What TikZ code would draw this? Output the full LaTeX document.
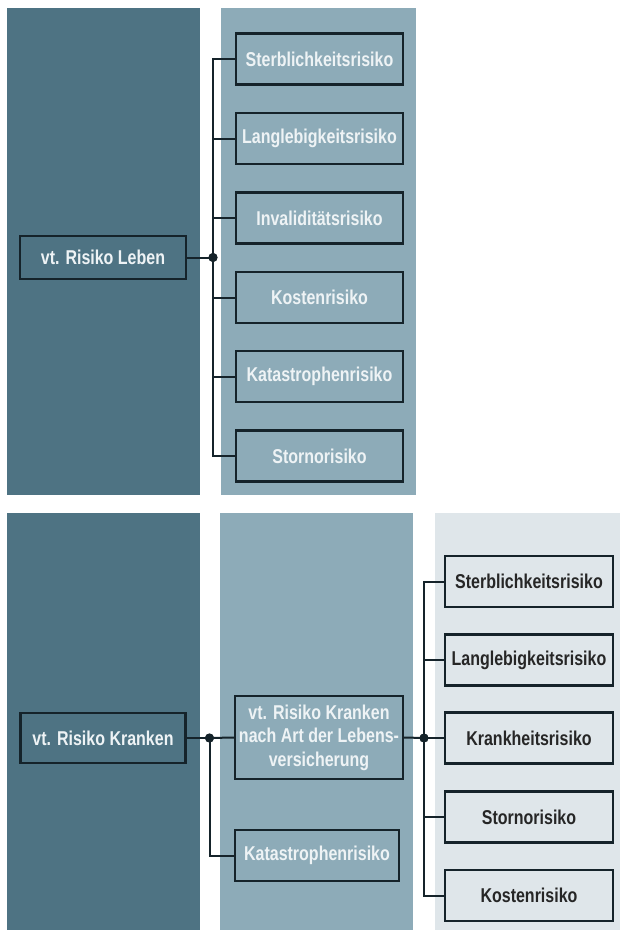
\documentclass[tikz,border=0pt]{standalone}
\usepackage{fontspec}
\setmainfont{Liberation Sans}[FakeStretch=0.8]
\definecolor{darkp}{HTML}{4E7383}
\definecolor{midp}{HTML}{8DABB8}
\definecolor{lightp}{HTML}{DFE6EA}
\definecolor{lineC}{HTML}{15232A}
\definecolor{txtW}{HTML}{EEF3F5}
\begin{document}
\begin{tikzpicture}[x=1pt,y=-1pt,
  box/.style={draw=lineC, line width=2.2pt, inner sep=0pt, align=center,
    font=\fontsize{20}{23.5}\selectfont\bfseries, minimum height=51pt},
  wbox/.style={box, text=txtW},
  kbox/.style={box, text=black!85},
  conn/.style={draw=lineC, line width=2pt},
  jdot/.style={circle, fill=lineC, inner sep=0pt, minimum size=9pt}]
\useasboundingbox (0,0) rectangle (620,930);
\fill[white] (0,0) rectangle (620,930);
% panels
\fill[darkp] (7,8) rectangle (200,495);
\fill[midp] (221,8) rectangle (416,495);
\fill[darkp] (7,513) rectangle (200,930);
\fill[midp] (220,513) rectangle (413,930);
\fill[lightp] (435,513) rectangle (620,930);
% top section
\node[wbox, minimum width=166pt, minimum height=43pt] (leben) at (103,257.5) {vt. Risiko Leben};
\node[jdot] (j1) at (213,257.5) {};
\node[wbox, minimum width=167pt] (t1) at (319.5,59) {Sterblichkeitsrisiko};
\node[wbox, minimum width=167pt] (t2) at (319.5,138.5) {Langlebigkeitsrisiko};
\node[wbox, minimum width=167pt] (t3) at (319.5,218) {Invaliditätsrisiko};
\node[wbox, minimum width=167pt] (t4) at (319.5,297.5) {Kostenrisiko};
\node[wbox, minimum width=167pt] (t5) at (319.5,376.5) {Katastrophenrisiko};
\node[wbox, minimum width=167pt] (t6) at (319.5,456) {Stornorisiko};
\draw[conn] (leben.east) -- (j1.center);
\foreach \n in {t1,t2,t3,t4,t5,t6} \draw[conn] (j1.center) |- (\n.west);
% bottom section
\node[wbox, minimum width=165pt, minimum height=50pt] (kranken) at (103,738) {vt. Risiko Kranken};
\node[jdot] (j2) at (209.5,738) {};
\node[wbox, minimum width=168pt, minimum height=83pt] (mid) at (319,737.5) {vt. Risiko Kranken\\nach Art der Lebens-\\versicherung};
\node[wbox, minimum width=164pt] (kat) at (317,855.5) {Katastrophenrisiko};
\node[jdot] (j3) at (424,738) {};
\node[kbox, minimum width=168pt] (r1) at (529,581.5) {Sterblichkeitsrisiko};
\node[kbox, minimum width=168pt] (r2) at (529,660) {Langlebigkeitsrisiko};
\node[kbox, minimum width=168pt] (r3) at (529,738) {Krankheitsrisiko};
\node[kbox, minimum width=168pt] (r4) at (529,817) {Stornorisiko};
\node[kbox, minimum width=168pt] (r5) at (529,895.5) {Kostenrisiko};
\draw[conn] (kranken.east) -- (j2.center);
\draw[conn] (j2.center) -- (mid.west);
\draw[conn] (j2.center) |- (kat.west);
\draw[conn] (mid.east) -- (j3.center);
\foreach \n in {r1,r2,r3,r4,r5} \draw[conn] (j3.center) |- (\n.west);
\node[jdot] at (j1) {};
\node[jdot] at (j2) {};
\node[jdot] at (j3) {};
\end{tikzpicture}
\end{document}
